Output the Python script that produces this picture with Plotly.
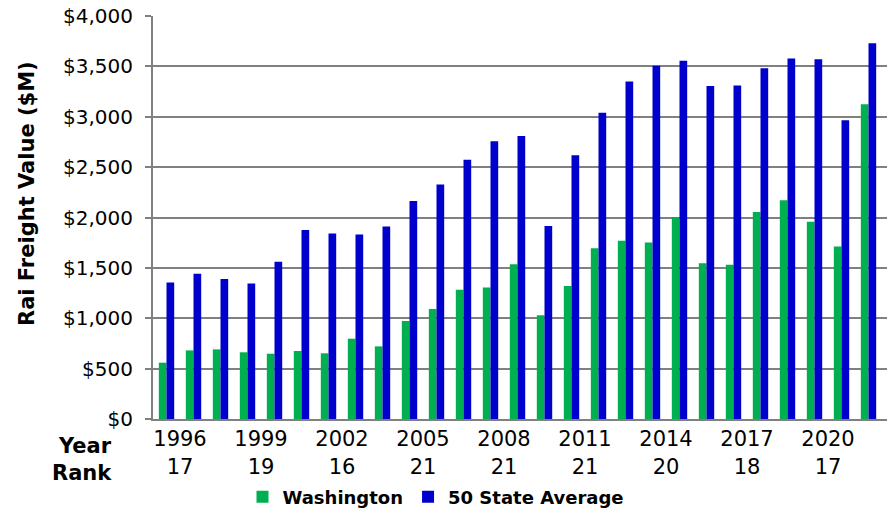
import plotly.graph_objects as go

# Annual rail freight value, millions of dollars
years = list(range(1996, 2023))
washington = [559, 681, 691, 662, 648, 675, 652, 797, 721, 972, 1091, 1283, 1306,
              1535, 1029, 1319, 1696, 1769, 1753, 2004, 1545, 1531, 2054, 2170,
              1957, 1713, 3125]
state_avg = [1356, 1442, 1389, 1346, 1561, 1875, 1842, 1832, 1911, 2163, 2328,
             2573, 2758, 2808, 1915, 2619, 3039, 3350, 3505, 3555, 3304, 3310,
             3482, 3578, 3571, 2966, 3730]

# Washington's national rank, shown every third year
label_years = [1996, 1999, 2002, 2005, 2008, 2011, 2014, 2017, 2020]
ranks = [17, 19, 16, 21, 21, 21, 20, 18, 17]

W, H = 887, 516
L, R, T, B = 153, 0, 16, 97
plot_w = W - L - R
cat_w = 27.0

GREEN = "#00B050"
BLUE = "#0000CC"
GRID = "#808080"
FONT = "DejaVu Sans"

fig = go.Figure()
fig.add_trace(go.Bar(x=years, y=washington, name="Washington",
                     marker=dict(color=GREEN, line=dict(width=0))))
fig.add_trace(go.Bar(x=years, y=state_avg, name="50 State Average",
                     marker=dict(color=BLUE, line=dict(width=0))))

x0 = years[0] - 0.5
x1 = x0 + plot_w / cat_w

fig.update_layout(
    width=W, height=H,
    margin=dict(l=L, r=R, t=T, b=B, pad=0),
    paper_bgcolor="white", plot_bgcolor="white",
    barmode="group", bargap=0.43, bargroupgap=0,
    font=dict(family=FONT, color="black", size=20),
    showlegend=True,
    legend=dict(orientation="h", xref="container", yref="container",
                x=436 / W, xanchor="center", y=(H - 497) / H, yanchor="middle",
                font=dict(family=FONT, size=18, color="black", weight="bold"),
                itemwidth=30, tracegroupgap=0, bgcolor="rgba(0,0,0,0)"),
    xaxis=dict(range=[x0, x1], showgrid=False, zeroline=False,
               showline=True, linecolor=GRID, linewidth=2,
               tickmode="array",
               tickvals=[y + 0.5 for y in label_years],
               ticktext=[f"{y}<br>{r}" for y, r in zip(label_years, ranks)],
               ticks="", tickfont=dict(family=FONT, size=21, color="black")),
    yaxis=dict(range=[0, 4000], dtick=500, tickprefix="$", tickformat=",",
               showgrid=True, gridcolor=GRID, gridwidth=2,
               zeroline=False, showline=True, linecolor=GRID, linewidth=2,
               ticks="outside", ticklen=6, tickcolor=GRID, tickwidth=2,
               ticklabelstandoff=8,
               tickfont=dict(family=FONT, size=20, color="black")),
)

# Axis title and row headers
fig.add_annotation(text="<b>Rai Freight Value ($M)</b>", textangle=-90,
                   xref="paper", yref="paper",
                   x=(27 - L) / plot_w, y=(H - B - 194) / (H - T - B),
                   xanchor="center", yanchor="middle", showarrow=False,
                   font=dict(family=FONT, size=21, color="black"))
for txt, ypix in (("Year", 446), ("Rank", 473)):
    fig.add_annotation(text=f"<b>{txt}</b>", xref="paper", yref="paper",
                       x=(114 - L) / plot_w, y=(H - B - ypix) / (H - T - B),
                       xanchor="right", yanchor="middle", showarrow=False,
                       font=dict(family=FONT, size=21, color="black"))

fig.write_html("out.html")
